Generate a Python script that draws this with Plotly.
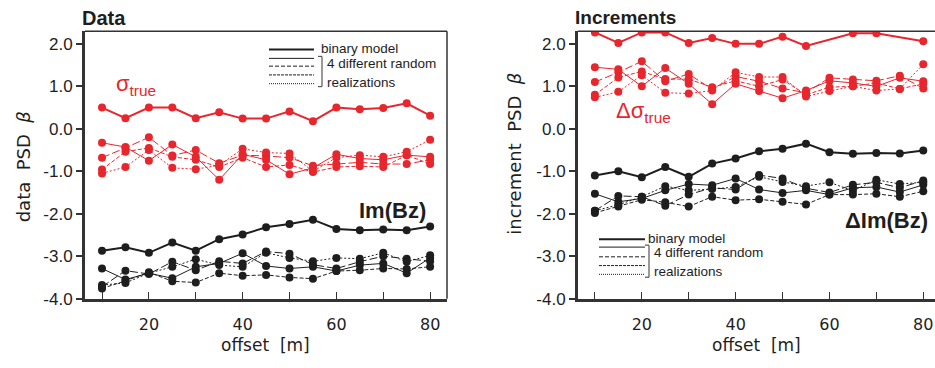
import plotly.graph_objects as go

offset = [10, 15, 20, 25, 30, 35, 40, 45, 50, 55, 60, 65, 70, 75, 80]

# ---- Data panel ----
data_sigma_binary = [0.5, 0.25, 0.5, 0.5, 0.25, 0.39, 0.24, 0.24, 0.41, 0.18, 0.5, 0.46, 0.49, 0.6, 0.31]
data_sigma_r1 = [-0.33, -0.43, -0.75, -0.37, -0.66, -1.2, -0.6, -0.73, -1.07, -0.92, -0.6, -0.7, -0.73, -0.62, -0.66]
data_sigma_r2 = [-0.68, -0.45, -0.2, -0.63, -0.5, -0.81, -0.62, -0.64, -0.68, -0.87, -0.83, -0.79, -0.83, -0.83, -0.73]
data_sigma_r3 = [-0.96, -0.54, -0.45, -0.66, -0.73, -0.9, -0.68, -0.9, -0.85, -1.02, -0.9, -0.88, -0.9, -0.62, -0.83]
data_sigma_r4 = [-1.05, -0.9, -0.5, -0.92, -0.95, -0.86, -0.47, -0.56, -0.58, -1.0, -0.68, -0.62, -0.66, -0.54, -0.26]

data_bz_binary = [-2.87, -2.79, -2.92, -2.68, -2.87, -2.6, -2.49, -2.32, -2.24, -2.14, -2.36, -2.39, -2.37, -2.39, -2.3]
data_bz_r1 = [-3.29, -3.55, -3.4, -3.52, -3.25, -3.17, -2.93, -3.23, -3.29, -3.25, -3.35, -3.21, -3.17, -3.4, -3.04]
data_bz_r2 = [-3.72, -3.34, -3.42, -3.13, -3.33, -3.12, -3.17, -2.89, -2.94, -3.2, -3.29, -3.13, -3.0, -3.06, -3.12]
data_bz_r3 = [-3.76, -3.58, -3.38, -3.59, -3.62, -3.4, -3.46, -3.44, -3.5, -3.53, -3.35, -3.33, -3.29, -3.3, -3.25]
data_bz_r4 = [-3.68, -3.63, -3.4, -3.25, -3.07, -3.21, -3.25, -2.92, -3.04, -3.12, -3.04, -3.06, -2.92, -3.13, -2.98]

# ---- Increments panel ----
inc_sigma_binary = [2.27, 2.02, 2.27, 2.27, 2.02, 2.14, 2.0, 2.0, 2.17, 1.95, None, 2.25, 2.25, None, 2.06]
inc_sigma_r1 = [1.45, 1.4, 1.0, 1.43, 1.06, 0.58, 1.06, 0.89, 0.72, 0.9, 1.13, 1.08, 1.0, 1.2, 1.12]
inc_sigma_r2 = [1.1, 1.33, 1.59, 1.12, 1.29, 0.93, 1.23, 1.12, 0.95, 0.85, 1.2, 1.16, 1.13, 1.25, 0.95]
inc_sigma_r3 = [0.8, 1.21, 1.35, 1.17, 1.17, 0.98, 1.13, 1.0, 1.16, 0.8, 0.98, 1.0, 1.08, 0.94, 1.06]
inc_sigma_r4 = [0.74, 0.87, 1.26, 0.85, 0.83, 0.9, 1.33, 1.22, 1.22, 0.76, 0.89, 1.0, 0.9, 0.94, 1.52]

inc_bz_binary = [-1.1, -1.0, -1.14, -0.9, -1.13, -0.82, -0.7, -0.53, -0.47, -0.35, -0.55, -0.59, -0.57, -0.58, -0.51]
inc_bz_r1 = [-1.53, -1.72, -1.64, -1.45, -1.3, -1.33, -1.17, -1.43, -1.51, -1.45, -1.55, -1.39, -1.37, -1.49, -1.32]
inc_bz_r2 = [-1.93, -1.58, -1.6, -1.81, -1.55, -1.39, -1.43, -1.09, -1.17, -1.4, -1.5, -1.32, -1.26, -1.39, -1.22]
inc_bz_r3 = [-1.98, -1.83, -1.67, -1.73, -1.83, -1.6, -1.68, -1.66, -1.72, -1.78, -1.55, -1.55, -1.53, -1.6, -1.47]
inc_bz_r4 = [-1.93, -1.79, -1.6, -1.35, -1.45, -1.42, -1.37, -1.13, -1.25, -1.35, -1.26, -1.46, -1.2, -1.3, -1.26]

y_ticks = [-4, -3, -2, -1, 0, 1, 2]
y_ticktext = ["-4.0", "-3.0", "-2.0", "-1.0", "0.0", "1.0", "2.0"]
x_ticks = [10, 20, 30, 40, 50, 60, 70, 80]
x_ticktext = ["", "20", "", "40", "", "60", "", "80"]

RED = "#e8262d"
BLACK = "#1e1e1e"
AX = "#333333"
W, H = 935, 368

real_dashes = ["solid", "8px,3px", "4px,2px", "2px,2px"]

fig = go.Figure()


def add_group(xa, ya, color, binary, reals):
    fig.add_trace(go.Scatter(x=offset, y=binary, xaxis=xa, yaxis=ya, mode="lines+markers",
                             connectgaps=True, line=dict(color=color, width=2),
                             marker=dict(color=color, size=8), showlegend=False))
    for r, d in zip(reals, real_dashes):
        fig.add_trace(go.Scatter(x=offset, y=r, xaxis=xa, yaxis=ya, mode="lines+markers",
                                 line=dict(color=color, width=1, dash=d),
                                 marker=dict(color=color, size=8), showlegend=False))


add_group("x", "y", BLACK, data_bz_binary, [data_bz_r1, data_bz_r2, data_bz_r3, data_bz_r4])
add_group("x", "y", RED, data_sigma_binary, [data_sigma_r1, data_sigma_r2, data_sigma_r3, data_sigma_r4])
add_group("x2", "y2", BLACK, inc_bz_binary, [inc_bz_r1, inc_bz_r2, inc_bz_r3, inc_bz_r4])
add_group("x2", "y2", RED, inc_sigma_binary, [inc_sigma_r1, inc_sigma_r2, inc_sigma_r3, inc_sigma_r4])


def px(x):
    return x / W


def py(y):
    return 1 - y / H


ydom = [py(307), py(32)]
xaxis_common = dict(tickmode="array", tickvals=x_ticks, ticktext=x_ticktext, ticks="inside",
                    ticklen=7, tickwidth=1, tickcolor=AX, showline=True, linewidth=3, linecolor=AX,
                    showgrid=False, zeroline=False,
                    tickfont=dict(family="DejaVu Sans", size=16, color=BLACK), ticklabelstandoff=9)
yaxis_common = dict(tickmode="array", tickvals=y_ticks, ticktext=y_ticktext, ticks="outside",
                    ticklen=6, tickwidth=1.5, tickcolor=AX, showline=True, linewidth=3, linecolor=AX,
                    showgrid=False, zeroline=False, range=[-4.0, 2.3], domain=ydom,
                    tickfont=dict(family="Liberation Sans", size=17, color=BLACK))

fig.update_layout(
    width=W, height=H, margin=dict(l=0, r=0, t=0, b=0),
    paper_bgcolor="white", plot_bgcolor="white",
    xaxis=dict(domain=[px(85), px(447)], range=[6.37, 83.6], anchor="y", **xaxis_common),
    yaxis=dict(anchor="x", **yaxis_common),
    xaxis2=dict(domain=[px(578), 1.0], range=[6.4, 82.5], anchor="y2", **xaxis_common),
    yaxis2=dict(anchor="x2", **yaxis_common),
)

shapes = []
# thin top/right frame lines
shapes.append(dict(type="line", xref="paper", yref="paper", x0=px(85), x1=px(447), y0=py(32), y1=py(32),
                   line=dict(color=AX, width=1.5)))
shapes.append(dict(type="line", xref="paper", yref="paper", x0=px(447), x1=px(447), y0=py(32), y1=py(307),
                   line=dict(color=AX, width=1.5)))
shapes.append(dict(type="line", xref="paper", yref="paper", x0=px(578), x1=1.0, y0=py(32), y1=py(32),
                   line=dict(color=AX, width=1.5)))

annotations = []


def legend_block(x0, x1, ys, bx, text_x, t_ys):
    styles = [(2, "solid"), (1, "solid"), (1, "4px,2px"), (1, "3px,1px"), (1, "1px,1px")]
    for (w, d), y in zip(styles, ys):
        shapes.append(dict(type="line", xref="paper", yref="paper", x0=px(x0), x1=px(x1), y0=py(y), y1=py(y),
                           line=dict(color=BLACK, width=w, dash=d)))
    # bracket
    top, bot = ys[1] - 2, ys[4] + 3
    shapes.append(dict(type="line", xref="paper", yref="paper", x0=px(bx), x1=px(bx), y0=py(top), y1=py(bot),
                       line=dict(color="#555", width=1.2)))
    shapes.append(dict(type="line", xref="paper", yref="paper", x0=px(bx - 4), x1=px(bx), y0=py(top), y1=py(top),
                       line=dict(color="#555", width=1.2)))
    shapes.append(dict(type="line", xref="paper", yref="paper", x0=px(bx - 4), x1=px(bx), y0=py(bot), y1=py(bot),
                       line=dict(color="#555", width=1.2)))
    for txt, tx, ty in zip(["binary model", "4 different random", "realizations"], text_x, t_ys):
        annotations.append(dict(text=txt, xref="paper", yref="paper", x=px(tx), y=py(ty), xanchor="left",
                                yanchor="middle", showarrow=False,
                                font=dict(family="Liberation Sans", size=13.5, color=BLACK)))


legend_block(269, 314, [51, 60, 68, 77, 86], 322, [319, 325, 325], [50, 65, 85])
legend_block(599, 645, [246, 254, 264, 273, 282], 649, [646, 652, 652], [245, 260, 279])


def ann(text, x, y, size, color=BLACK, bold=False, family="Liberation Sans", xanchor="left", angle=0):
    annotations.append(dict(text=("<b>%s</b>" % text) if bold else text, xref="paper", yref="paper",
                            x=px(x), y=py(y), xanchor=xanchor, yanchor="middle", showarrow=False,
                            textangle=angle, font=dict(family=family, size=size, color=color)))


ann("Data", 80, 18, 20, bold=True)
ann("Increments", 573, 18, 19, bold=True)
ann("σ<sub>true</sub>", 114, 87, 22, color=RED)
ann("Δσ<sub>true</sub>", 614, 115, 22, color=RED)
ann("Im(Bz)", 357, 216, 22, bold=True)
ann("ΔIm(Bz)", 843, 227, 22, bold=True)
ann("data  PSD  <i>β</i>", 23, 172, 18, xanchor="center", angle=-90, family="DejaVu Sans")
ann("increment  PSD  <i>β</i>", 515, 158, 18, xanchor="center", angle=-90, family="DejaVu Sans")
ann("offset  [m]", 265, 355, 17, xanchor="center", family="DejaVu Sans")
ann("offset  [m]", 756, 355, 17, xanchor="center", family="DejaVu Sans")

fig.update_layout(shapes=shapes, annotations=annotations)
fig.write_html("out.html")
